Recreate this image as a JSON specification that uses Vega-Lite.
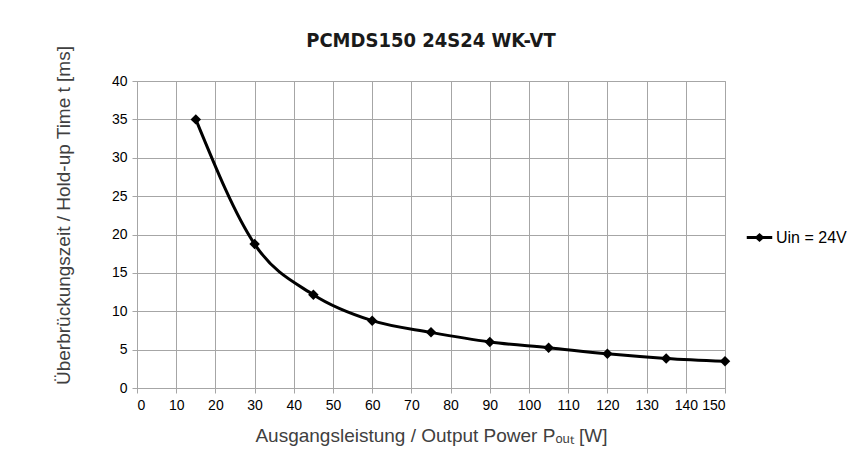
{
  "$schema": "https://vega.github.io/schema/vega-lite/v6.json",
  "width": 588,
  "height": 307,
  "autosize": {"type": "none"},
  "padding": {"left": 137, "top": 81, "right": 133, "bottom": 76},
  "background": "white",
  "title": {
    "text": "PCMDS150 24S24 WK-VT",
    "font": "DejaVu Sans Condensed, Liberation Sans Narrow, sans-serif",
    "fontSize": 20,
    "fontWeight": "bold",
    "color": "#1a1a1a",
    "anchor": "middle",
    "offset": -6
  },
  "data": {
    "values": [
      {"P": 15, "t": 35.0, "series": "Uin = 24V"},
      {"P": 30, "t": 18.75, "series": "Uin = 24V"},
      {"P": 45, "t": 12.15, "series": "Uin = 24V"},
      {"P": 60, "t": 8.77, "series": "Uin = 24V"},
      {"P": 75, "t": 7.25, "series": "Uin = 24V"},
      {"P": 90, "t": 6.0, "series": "Uin = 24V"},
      {"P": 105, "t": 5.25, "series": "Uin = 24V"},
      {"P": 120, "t": 4.45, "series": "Uin = 24V"},
      {"P": 135, "t": 3.85, "series": "Uin = 24V"},
      {"P": 150, "t": 3.47, "series": "Uin = 24V"}
    ]
  },
  "encoding": {
    "x": {
      "field": "P", "type": "quantitative",
      "scale": {"domain": [0, 150], "nice": false},
      "axis": {
        "values": [0,10,20,30,40,50,60,70,80,90,100,110,120,130,140,150],
        "title": "Ausgangsleistung / Output Power Pₒᵤₜ [W]",
        "titlePadding": 14
      }
    },
    "y": {
      "field": "t", "type": "quantitative",
      "scale": {"domain": [0, 40], "nice": false},
      "axis": {
        "values": [0,5,10,15,20,25,30,35,40],
        "title": "Überbrückungszeit / Hold-up Time t [ms]",
        "titlePadding": 38,
        "titleY": 134
      }
    },
    "color": {
      "field": "series", "type": "nominal",
      "scale": {"domain": ["Uin = 24V"], "range": ["#000000"]},
      "legend": {
        "title": null,
        "orient": "right",
        "offset": 14,
        "symbolType": "M-1,0L1,0M-0.22,0L0,-0.2L0.22,0L0,0.2Z",
        "symbolSize": 650,
        "symbolStrokeWidth": 3,
        "symbolFillColor": "#000000",
        "labelFont": "Liberation Sans, Arial, sans-serif",
        "labelFontSize": 16,
        "labelColor": "#000000",
        "labelOffset": 2
      }
    }
  },
  "layer": [
    {
      "mark": {"type": "line", "interpolate": "monotone", "strokeWidth": 3, "color": "#000000"}
    },
    {
      "mark": {"type": "point", "shape": "diamond", "filled": true, "size": 110, "opacity": 1, "color": "#000000"}
    }
  ],
  "config": {
    "view": {"stroke": "#a6a6a6", "strokeWidth": 1},
    "legend": {"layout": {"right": {"anchor": "middle"}}},
    "axis": {
      "labelFont": "Liberation Sans, Arial, sans-serif",
      "labelFontSize": 14,
      "labelColor": "#000000",
      "titleFont": "Liberation Sans, Arial, sans-serif",
      "titleFontSize": 19,
      "titleFontWeight": "normal",
      "titleColor": "#404040",
      "gridColor": "#a6a6a6",
      "gridWidth": 1,
      "gridOpacity": 1,
      "domainColor": "#a6a6a6",
      "tickColor": "#a6a6a6",
      "tickSize": 5,
      "labelPadding": 5
    }
  }
}
